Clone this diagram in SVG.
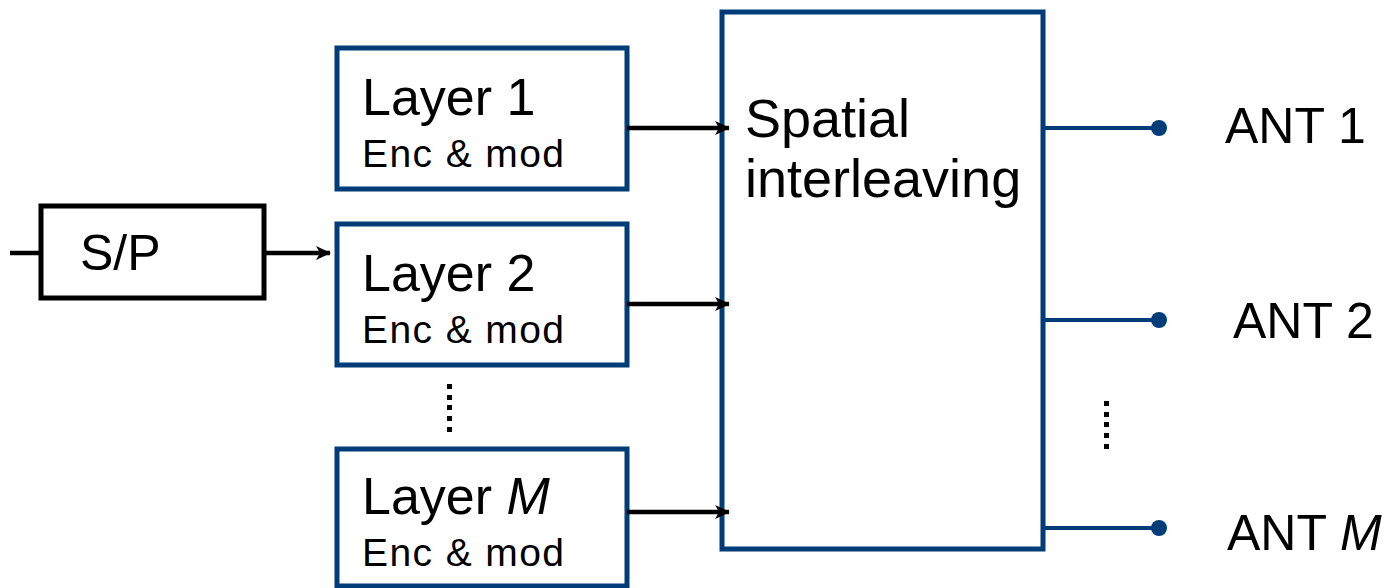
<svg xmlns="http://www.w3.org/2000/svg" width="1393" height="588" viewBox="0 0 1393 588">
  <style>
    .blk { fill: #fff; stroke: #003C78; stroke-width: 5; }
    .sp { fill: #fff; stroke: #000; stroke-width: 5; }
    .t { font-family: "Liberation Sans", Arial, sans-serif; fill: #000; }
    .big { font-size: 52px; }
    .small { font-size: 39px; }
    .arrow { stroke: #000; stroke-width: 4.5; fill: none; marker-end: url(#ah); }
    .feed { stroke: #003C78; stroke-width: 4; fill: none; }
    .dot { fill: #003C78; }
    .sq { fill: #000; }
  </style>
  <defs>
    <marker id="ah" viewBox="0 0 15 14" refX="14" refY="7" markerWidth="15" markerHeight="14" markerUnits="userSpaceOnUse" orient="auto">
      <path d="M0,0 L15,7 L0,14 L4,7 Z" fill="#000"/>
    </marker>
  </defs>

  <g id="sp">
    <rect class="sp" x="41" y="206" width="223" height="92"/>
    <text class="t" x="80" y="270" font-size="50">S/P</text>
  </g>

  <g id="layer1">
    <rect class="blk" x="337" y="48" width="290" height="141"/>
    <text class="t big" x="362" y="115">Layer 1</text>
    <text class="t small" x="362" y="167" textLength="202" lengthAdjust="spacing">Enc &amp; mod</text>
  </g>

  <g id="layer2">
    <rect class="blk" x="337" y="224" width="290" height="141"/>
    <text class="t big" x="362" y="291">Layer 2</text>
    <text class="t small" x="362" y="343" textLength="202" lengthAdjust="spacing">Enc &amp; mod</text>
  </g>

  <g id="layerM">
    <rect class="blk" x="337" y="449" width="290" height="137"/>
    <text class="t big" x="362" y="514">Layer <tspan font-style="italic">M</tspan></text>
    <text class="t small" x="362" y="566" textLength="202" lengthAdjust="spacing">Enc &amp; mod</text>
  </g>

  <g id="interleaver">
    <rect class="blk" x="722" y="12" width="321" height="537"/>
    <text class="t" font-size="54" x="745" y="137">Spatial</text>
    <text class="t" font-size="54" x="745" y="197">interleaving</text>
  </g>

  <g id="ant1">
    <circle class="dot" cx="1159" cy="128" r="8"/>
    <text class="t" font-size="50" x="1225" y="143">ANT 1</text>
  </g>
  <g id="ant2">
    <circle class="dot" cx="1159" cy="320" r="8"/>
    <text class="t" font-size="50" x="1233" y="338">ANT 2</text>
  </g>
  <g id="antM">
    <circle class="dot" cx="1159" cy="528" r="8"/>
    <text class="t" font-size="50" x="1227" y="550">ANT <tspan font-style="italic">M</tspan></text>
  </g>

  <g id="ellipses">
    <rect class="sq" x="447" y="384" width="5" height="5"/>
    <rect class="sq" x="447" y="395" width="5" height="5"/>
    <rect class="sq" x="447" y="405" width="5" height="5"/>
    <rect class="sq" x="447" y="416" width="5" height="5"/>
    <rect class="sq" x="447" y="427" width="5" height="5"/>
    <rect class="sq" x="1104" y="401" width="5" height="5"/>
    <rect class="sq" x="1104" y="412" width="5" height="5"/>
    <rect class="sq" x="1104" y="422" width="5" height="5"/>
    <rect class="sq" x="1104" y="433" width="5" height="5"/>
    <rect class="sq" x="1104" y="444" width="5" height="5"/>
  </g>

  <g id="connectors">
    <line x1="10" y1="253" x2="41" y2="253" stroke="#000" stroke-width="4.5"/>
    <line class="arrow" x1="264" y1="253" x2="330" y2="253"/>
    <line class="arrow" x1="627" y1="128" x2="729" y2="128"/>
    <line class="arrow" x1="627" y1="304" x2="729" y2="304"/>
    <line class="arrow" x1="627" y1="512" x2="729" y2="512"/>
    <line class="feed" x1="1043" y1="128" x2="1159" y2="128"/>
    <line class="feed" x1="1043" y1="320" x2="1159" y2="320"/>
    <line class="feed" x1="1043" y1="528" x2="1159" y2="528"/>
  </g>
</svg>
